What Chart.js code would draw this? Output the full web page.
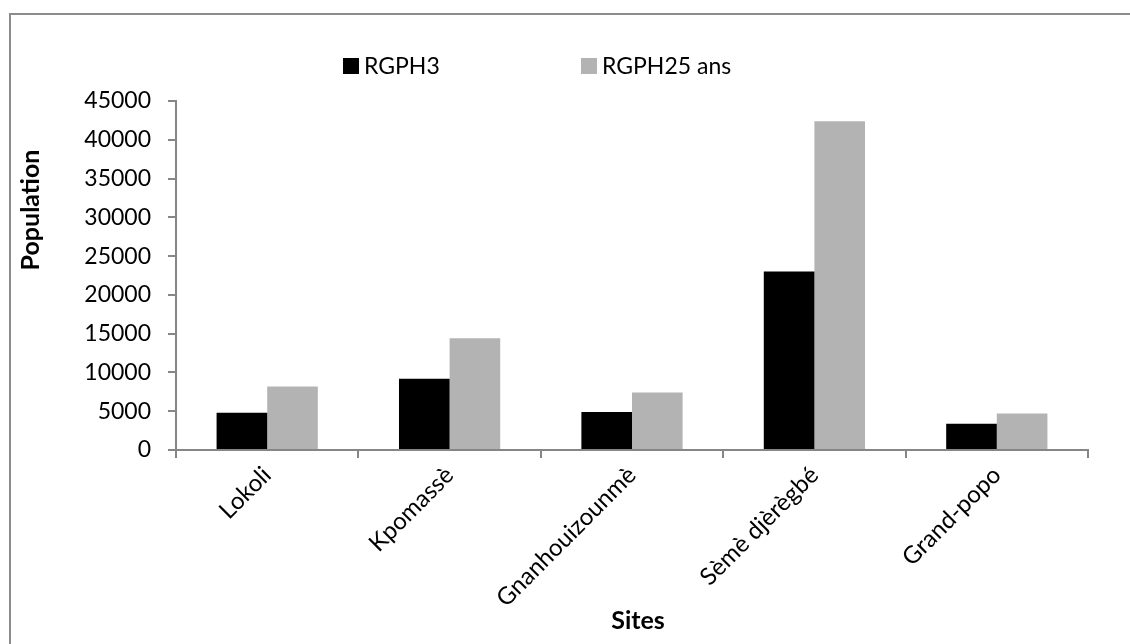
<!DOCTYPE html>
<html>
<head>
<meta charset="utf-8">
<script src="https://cdn.jsdelivr.net/npm/chart.js@4/dist/chart.umd.min.js"></script>
<style>
  html, body { margin: 0; padding: 0; background: #fff; }
  #wrap { width: 1130px; height: 644px; position: relative; }
</style>
</head>
<body>
<div id="wrap"><canvas id="c" width="1130" height="644"></canvas></div>
<script>
const categories = ["Lokoli", "Kpomassè", "Gnanhouizounmè", "Sèmè djèrègbé", "Grand-popo"];
const rgph3 = [4800, 9200, 4900, 23000, 3400];
const rgph25 = [8200, 14400, 7400, 42400, 4700];
const seriesNames = ["RGPH3", "RGPH25 ans"];
const yTitle = "Population";
const xTitle = "Sites";

const FONT = "Lato, 'DejaVu Sans', sans-serif";
const AXIS = "#868686";

const decor = {
  id: "decor",
  beforeDraw(chart) {
    const ctx = chart.ctx;
    ctx.save();
    ctx.fillStyle = "#fff";
    ctx.fillRect(0, 0, chart.width, chart.height);
    ctx.fillStyle = "#8c8c8c";
    ctx.fillRect(9, 13, 2, chart.height - 13);
    ctx.fillRect(9, 13, chart.width - 9, 2);
    ctx.restore();
  },
  afterDraw(chart) {
    const ctx = chart.ctx;
    const area = chart.chartArea;
    ctx.save();
    // legend
    ctx.font = "23px " + FONT;
    ctx.textBaseline = "middle";
    ctx.textAlign = "left";
    const legendX = [343, 581];
    chart.data.datasets.forEach((ds, i) => {
      ctx.fillStyle = ds.backgroundColor;
      ctx.fillRect(legendX[i], 58, 16, 16);
      ctx.fillStyle = "#000";
      ctx.fillText(ds.label, legendX[i] + 21, 67);
    });
    // axis titles
    ctx.font = "bold 25px " + FONT;
    ctx.fillStyle = "#000";
    ctx.textAlign = "center";
    ctx.save();
    ctx.translate(31, 210);
    ctx.rotate(-Math.PI / 2);
    ctx.fillText(yTitle, 0, 0);
    ctx.restore();
    ctx.fillText(xTitle, (area.left + area.right) / 2 + 6, 621);
    ctx.restore();
  }
};

new Chart(document.getElementById("c"), {
  type: "bar",
  data: {
    labels: categories,
    datasets: [
      { label: seriesNames[0], data: rgph3, backgroundColor: "#000000", borderWidth: 0 },
      { label: seriesNames[1], data: rgph25, backgroundColor: "#b3b3b3", borderWidth: 0 }
    ]
  },
  options: {
    responsive: false,
    animation: false,
    layout: { padding: { top: 101, right: 42, left: 0, bottom: 0 } },
    datasets: { bar: { categoryPercentage: 0.555, barPercentage: 1.0 } },
    plugins: { legend: { display: false }, tooltip: { enabled: false } },
    scales: {
      x: {
        offset: true,
        grid: { display: true, offset: true, drawOnChartArea: false, drawTicks: true, tickLength: 8, color: AXIS, lineWidth: 2 },
        border: { display: true, color: AXIS, width: 2 },
        ticks: { autoSkip: false, maxRotation: 45, minRotation: 45, padding: 3, color: "#000", font: { family: FONT, size: 24 } },
        afterFit(s) { s.height = 644 - 450; }
      },
      y: {
        min: 0, max: 45000,
        grid: { display: true, drawOnChartArea: false, drawTicks: true, tickLength: 8, color: AXIS, lineWidth: 2 },
        border: { display: true, color: AXIS, width: 2 },
        ticks: { stepSize: 5000, padding: 17, color: "#000", font: { family: FONT, size: 23 }, callback: v => String(v) },
        afterFit(s) { s.width = 176; }
      }
    }
  },
  plugins: [decor]
});
</script>
</body>
</html>
